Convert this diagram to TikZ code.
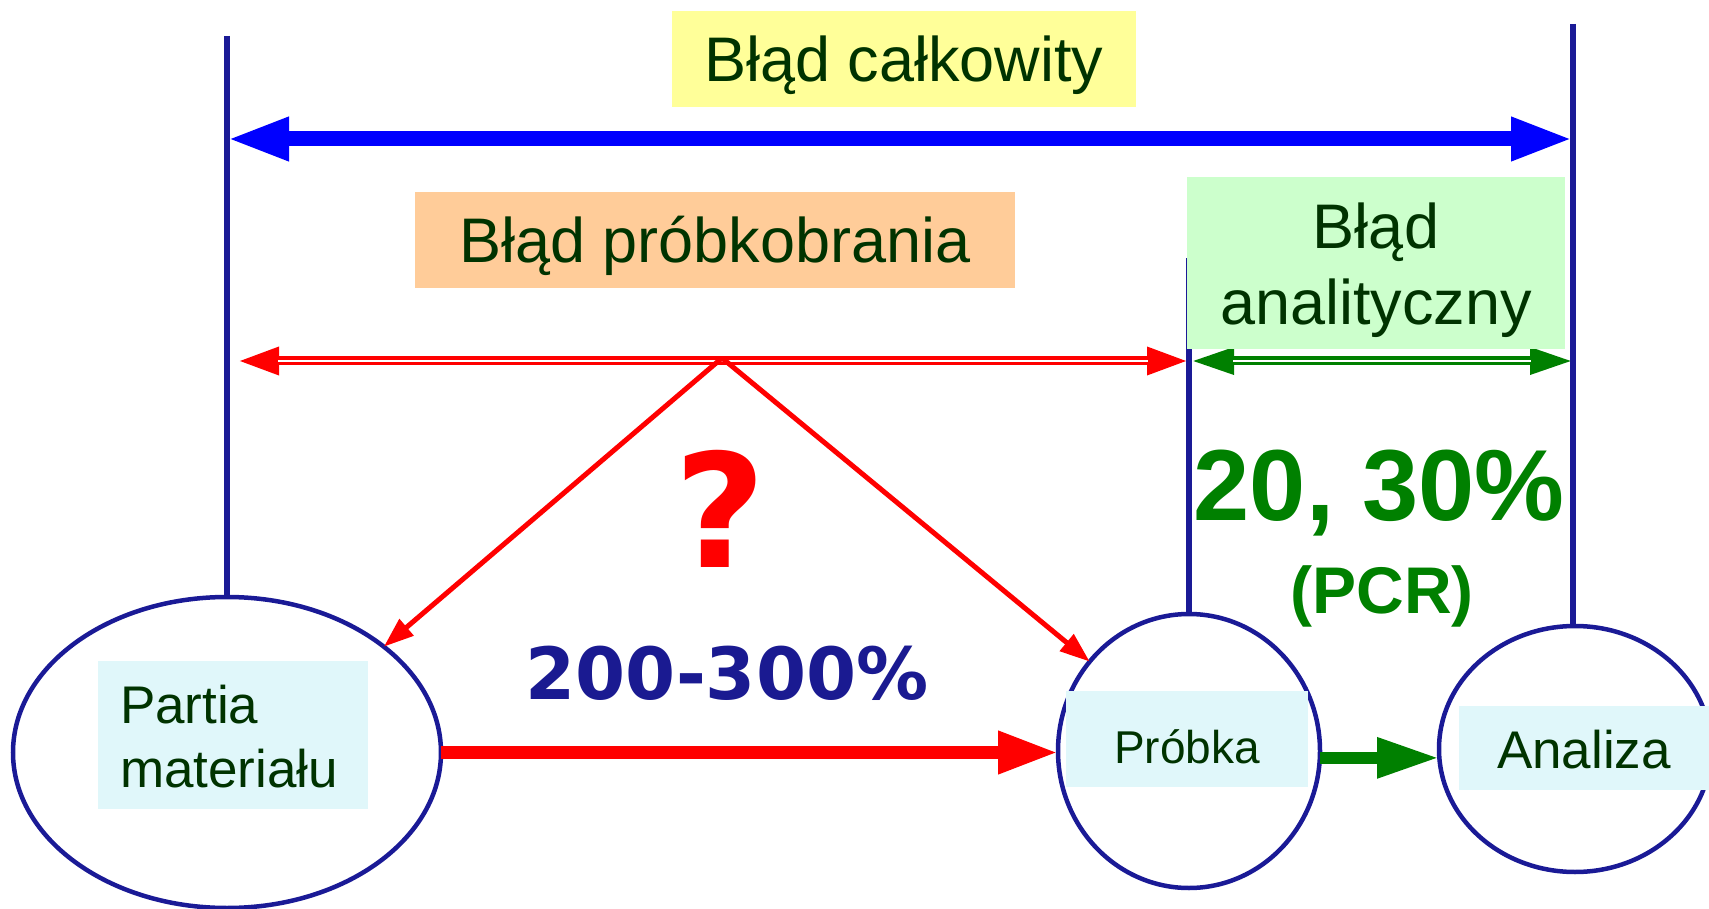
\documentclass[tikz,border=0pt]{standalone}
\usepackage{fontspec}
\setmainfont{Liberation Sans}
\newfontfamily\dejavu{DejaVu Sans}
\usetikzlibrary{arrows.meta,shapes.geometric}
\definecolor{navy}{RGB}{26,26,150}
\definecolor{txtgreen}{RGB}{0,51,0}
\definecolor{boxyellow}{RGB}{255,255,153}
\definecolor{boxorange}{RGB}{255,204,153}
\definecolor{boxgreen}{RGB}{204,255,204}
\definecolor{boxcyan}{RGB}{224,247,250}
\definecolor{numblue}{RGB}{26,26,145}
\definecolor{arrgreen}{RGB}{0,128,0}
\newcommand\twolinesc[2]{\vtop{\halign{\hfil##\hfil\cr#1\cr#2\cr}}}
\newcommand\twolinesl[2]{\vtop{\hbox{#1}\hbox{#2}}}
\tikzset{
  vline/.style={draw=navy, line width=6pt},
  oval/.style={ellipse, draw=navy, line width=4.5pt, inner sep=0pt, outer sep=0pt},
  lbl/.style={inner sep=0pt, outer sep=0pt, text=txtgreen, anchor=base},
  bigfont/.style={font=\fontsize{63}{76}\selectfont},
  numtxt/.style={inner sep=0pt, outer sep=0pt, anchor=base},
}
\begin{document}
\begin{tikzpicture}[x=1pt,y=-1pt]
\useasboundingbox (0,0) rectangle (1709,909);
% ellipses
\node[oval, minimum width=428pt, minimum height=311pt] (partia) at (227,752.5) {};
\node[oval, minimum width=262pt, minimum height=274pt] (probka) at (1189,751) {};
\node[oval, minimum width=272pt, minimum height=246pt] (analiza) at (1575,749) {};
% vertical lines
\coordinate (Ltop) at (227,36);
\coordinate (Mtop) at (1189,258);
\coordinate (Rtop) at (1573,24);
\draw[vline] (Ltop) -- (partia.north);
\draw[vline, line width=6.5pt] (Mtop) -- (probka.north);
\draw[vline] (Rtop) -- (Rtop |- analiza.north);
% blue total arrow
\coordinate (bL) at (227,139);
\coordinate (bR) at (1573,139);
\draw[blue, line width=15pt, {Triangle[length=62pt,width=40pt]}-{Triangle[length=62pt,width=40pt]}] (bL) -- (bR);
% red double arrow
\coordinate (rL) at (238,361);
\coordinate (rR) at (1188,361);
\draw[red, line width=9pt, {Triangle[length=41pt,width=26pt]}-{Triangle[length=41pt,width=26pt]}] (rL) -- (rR);
\draw[white, line width=2.5pt, shorten <=40pt, shorten >=40pt] (rL) -- (rR);
% green double arrow
\coordinate (gL) at (1191,361);
\coordinate (gR) at (1573,361);
\draw[arrgreen, line width=9pt, {Triangle[length=43pt,width=25pt]}-{Triangle[length=43pt,width=25pt]}] (gL) -- (gR);
\draw[white, line width=2.5pt, shorten <=42pt, shorten >=42pt] (gL) -- (gR);
% red diagonals
\coordinate (apex) at (722,358);
\draw[red, line width=5pt, -{Triangle[length=30pt,width=21pt]}] (apex) -- (partia.34);
\draw[red, line width=5pt, -{Triangle[length=30pt,width=21pt]}] (apex) -- (probka.138);
% flow arrows
\draw[red, line width=13pt, -{Triangle[length=60pt,width=40pt]}] (partia.east) -- (partia.east -| probka.west);
\draw[arrgreen, line width=12pt, -{Triangle[length=62pt,width=38pt]}] (probka.-3.5) -- (probka.-3.5 -| analiza.west);
% label boxes
\node[lbl, bigfont, fill=boxyellow, minimum width=464pt, text height=71pt, text depth=25pt] (total) at (904,82) {Błąd całkowity};
\node[lbl, bigfont, fill=boxorange, minimum width=600pt, text height=71pt, text depth=25pt] (sampling) at (715,263) {Błąd próbkobrania};
\node[lbl, bigfont, fill=boxgreen, minimum width=378pt, text height=72pt, text depth=100pt] (analytic) at (1376,249) {\twolinesc{Błąd}{analityczny}};
\node[lbl, anchor=base west, fill=boxcyan, text height=62pt, text depth=86pt, font=\fontsize{53}{64}\selectfont] (partiatxt) at (98,723) {\makebox[270pt][l]{\hspace{22pt}\twolinesl{Partia}{materiału}}};
\node[lbl, fill=boxcyan, minimum width=242pt, text height=72pt, text depth=24pt, font=\fontsize{46}{55}\selectfont] (probkatxt) at (1187,763) {Próbka};
\node[lbl, fill=boxcyan, minimum width=250pt, text height=62pt, text depth=22pt, font=\fontsize{53}{64}\selectfont] (analizatxt) at (1584,768) {Analiza};
% numbers
\node[numtxt, text=red, font=\dejavu\bfseries\fontsize{158}{158}\selectfont] (quest) at (720,567) {?};
\node[numtxt, text=numblue, font=\dejavu\bfseries\fontsize{72}{72}\selectfont] (pctA) at (727,699) {200-300\%};
\node[numtxt, text=arrgreen, font=\bfseries\fontsize{101}{101}\selectfont] (pctB) at (1379,520) {20, 30\%};
\node[numtxt, text=arrgreen, font=\bfseries\fontsize{66}{66}\selectfont] (pcr) at (1382,613) {(PCR)};
\end{tikzpicture}
\end{document}
